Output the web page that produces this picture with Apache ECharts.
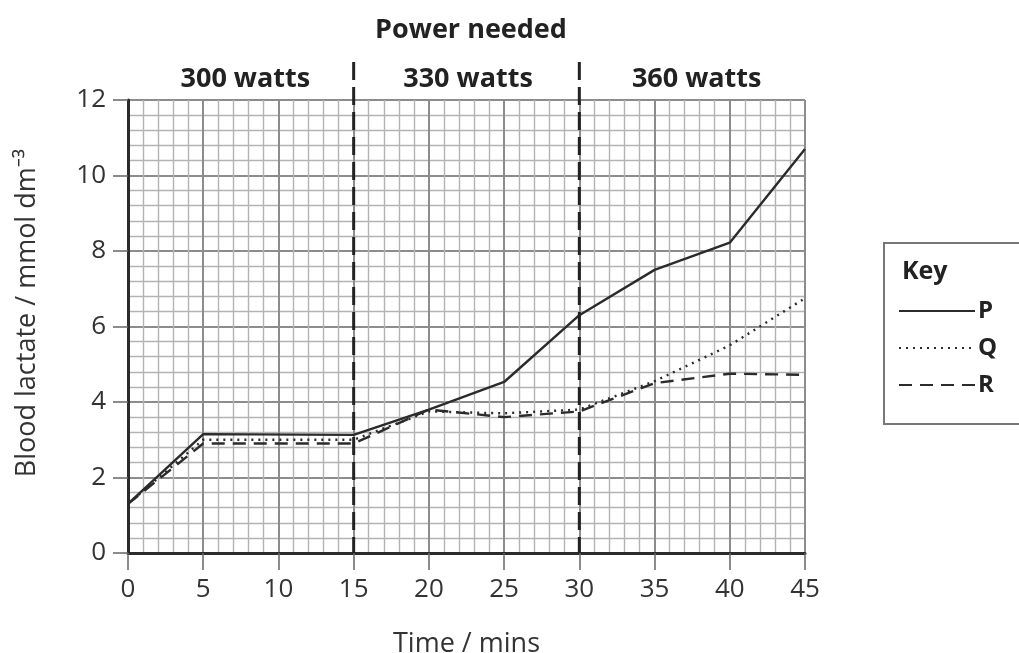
<!DOCTYPE html>
<html>
<head>
<meta charset="utf-8">
<script src="https://cdn.jsdelivr.net/npm/echarts@6/dist/echarts.min.js"></script>
<style>
html, body { margin: 0; padding: 0; background: #fff; }
#main { width: 1019px; height: 653px; }
</style>
</head>
<body>
<div id="main"></div>
<script>
// time in minutes
var times = [0, 5, 15, 20, 25, 30, 35, 40, 45];
// blood lactate, mmol dm-3
var seriesP = [1.3, 3.15, 3.13, 3.8, 4.53, 6.3, 7.5, 8.22, 10.7];
var seriesQ = [1.3, 3.0, 3.0, 3.75, 3.7, 3.8, 4.55, 5.5, 6.75];
var seriesR = [1.3, 2.9, 2.9, 3.8, 3.6, 3.75, 4.5, 4.75, 4.72];
var seriesNames = ['P', 'Q', 'R'];
// power stages
var stageBounds = [15, 30];
var stageLabels = ['300 watts', '330 watts', '360 watts'];
var stageMid = [7.8, 22.6, 37.8];

var FONT = '"Open Sans", "Noto Sans", sans-serif';
var ink = '#2b2b2b';

function pairs(ys) {
    var out = [];
    for (var i = 0; i < times.length; i++) {
        out.push([times[i], ys[i]]);
    }
    return out;
}

var chart = echarts.init(document.getElementById('main'));

function lineSeries(name, ys, dash) {
    return {
        name: name,
        type: 'line',
        data: pairs(ys),
        symbol: 'none',
        smooth: false,
        z: 5,
        lineStyle: { color: ink, width: 2.4, type: dash },
        itemStyle: { color: ink }
    };
}

chart.setOption({
    animation: false,
    grid: { left: 128, right: 214, top: 100, bottom: 100, containLabel: false, outerBoundsMode: 'none' },
    xAxis: {
        type: 'value',
        min: 0, max: 45, interval: 5,
        name: 'Time / mins',
        nameLocation: 'middle',
        nameGap: 78,
        nameTextStyle: { fontFamily: FONT, fontSize: 27, color: '#333' },
        axisLine: { show: true, onZero: false, lineStyle: { color: ink, width: 3 } },
        axisTick: { show: true, length: 17, lineStyle: { color: '#666', width: 1.5 } },
        axisLabel: { fontFamily: FONT, fontSize: 26, color: '#333', margin: 24 },
        splitLine: { show: true, lineStyle: { color: '#8c8c8c', width: 2 } },
        minorTick: { show: false, splitNumber: 5 },
        minorSplitLine: { show: true, lineStyle: { color: '#b3b3b3', width: 1.4 } }
    },
    yAxis: {
        type: 'value',
        min: 0, max: 12, interval: 2,
        axisLine: { show: true, onZero: false, lineStyle: { color: ink, width: 3 } },
        axisTick: { show: true, length: 15, lineStyle: { color: '#666', width: 1.5 } },
        axisLabel: { fontFamily: FONT, fontSize: 26, color: '#333', margin: 22 },
        splitLine: { show: true, lineStyle: { color: '#8c8c8c', width: 2 } },
        minorTick: { show: false, splitNumber: 5 },
        minorSplitLine: { show: true, lineStyle: { color: '#b3b3b3', width: 1.4 } }
    },
    legend: {
        orient: 'vertical',
        left: 884,
        top: 243,
        width: 150,
        padding: [56, 40, 27, 14],
        itemGap: 13,
        itemWidth: 76,
        itemHeight: 20,
        borderColor: '#777',
        borderWidth: 2,
        borderRadius: 0,
        data: seriesNames,
        itemStyle: { opacity: 0 },
        textStyle: { fontFamily: FONT, fontSize: 24, fontWeight: 'bold', color: '#222', padding: [0, 0, 0, -2] }
    },
    series: [
        lineSeries(seriesNames[0], seriesP, 'solid'),
        lineSeries(seriesNames[1], seriesQ, [2, 5]),
        lineSeries(seriesNames[2], seriesR, [13, 8])
    ]
});

// stage separators and labels placed through the axis scales
var topPx = chart.convertToPixel({ gridIndex: 0 }, [0, 12])[1];
var basePx = chart.convertToPixel({ gridIndex: 0 }, [0, 0])[1];
var graphics = [];
stageBounds.forEach(function (b) {
    var x = chart.convertToPixel({ gridIndex: 0 }, [b, 0])[0];
    graphics.push({
        type: 'line', z: 10,
        shape: { x1: x, y1: topPx - 38, x2: x, y2: basePx },
        style: { stroke: '#222', lineWidth: 3, lineDash: [18, 7] }
    });
});
stageLabels.forEach(function (t, i) {
    var x = chart.convertToPixel({ gridIndex: 0 }, [stageMid[i], 0])[0];
    graphics.push({
        type: 'text', x: x, y: topPx - 21,
        style: { text: t, fontFamily: FONT, fontSize: 27, fontWeight: 'bold', fill: '#222', align: 'center', verticalAlign: 'middle' }
    });
});
var midX = chart.convertToPixel({ gridIndex: 0 }, [22.8, 0])[0];
graphics.push({
    type: 'text', x: midX, y: topPx - 70,
    style: { text: 'Power needed', fontFamily: FONT, fontSize: 27, fontWeight: 'bold', fill: '#222', align: 'center', verticalAlign: 'middle' }
});
graphics.push({
    type: 'text', x: 902, y: 272,
    style: { text: 'Key', fontFamily: FONT, fontSize: 25, fontWeight: 'bold', fill: '#222', align: 'left', verticalAlign: 'middle' }
});
// y axis title
graphics.push({
    type: 'text', x: 27, y: 313, rotation: Math.PI / 2,
    style: { text: 'Blood lactate / mmol dm⁻³', fontFamily: FONT, fontSize: 27, fill: '#333', align: 'center', verticalAlign: 'middle' }
});
chart.setOption({ graphic: graphics });
</script>
</body>
</html>
